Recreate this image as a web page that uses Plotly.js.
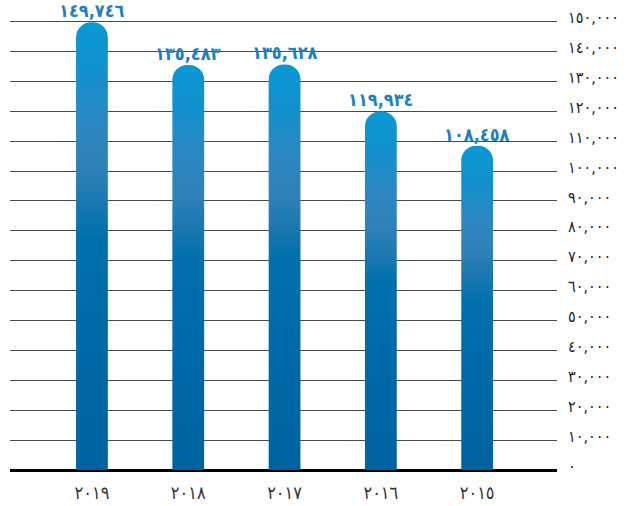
<!DOCTYPE html>
<html>
<head>
<meta charset="utf-8">
<script src="https://cdn.plot.ly/plotly-3.0.1.min.js"></script>
<style>
  html, body { margin: 0; padding: 0; background: #ffffff; }
  #chart { width: 630px; height: 506px; }
  /* tighter digit spacing for the axis numbers */
  #chart .ytick text { letter-spacing: -1.3px; }
</style>
</head>
<body>
<div id="chart"></div>
<script>
// Annual totals, newest year first (left to right)
const years = [2019, 2018, 2017, 2016, 2015];
const totals = [149746, 135483, 135628, 119934, 108458];
const yTickValues = [0, 10000, 20000, 30000, 40000, 50000, 60000, 70000,
                     80000, 90000, 100000, 110000, 120000, 130000, 140000, 150000];

// Western digits -> Arabic-Indic digits, keeping the comma separator
const AR_DIGITS = ['٠','١','٢','٣','٤','٥','٦','٧','٨','٩'];
function toArabic(str) {
  return String(str).replace(/[0-9]/g, d => AR_DIGITS[+d]);
}
function fmt(n) {
  return toArabic(n.toLocaleString('en-US'));
}

const cats = years.map(String);
const condensed = 'DejaVu Sans Condensed, DejaVu Sans, sans-serif';

const trace = {
  type: 'bar',
  x: cats,
  y: totals,
  width: 0.33,
  marker: { color: '#0a77b2', cornerradius: '50%', line: { width: 0 } },
  hoverinfo: 'none'
};

// value labels above each bar (x given as category index)
const annotations = cats.map((c, i) => ({
  x: i,
  y: totals[i],
  xref: 'x',
  yref: 'y',
  text: fmt(totals[i]),
  showarrow: false,
  yanchor: 'bottom',
  yshift: 0,
  borderpad: 0,
  font: { family: condensed, size: 18, color: '#1f7fbf', weight: 'bold' }
}));

const layout = {
  width: 630,
  height: 506,
  margin: { l: 10, r: 73, t: 20, b: 36, pad: 0 },
  paper_bgcolor: '#ffffff',
  plot_bgcolor: '#ffffff',
  showlegend: false,
  xaxis: {
    type: 'category',
    categoryorder: 'array',
    categoryarray: cats,
    range: [-0.851, 4.829],
    tickvals: cats,
    ticktext: years.map(toArabic),
    showgrid: false,
    zeroline: false,
    showline: false,
    ticks: '',
    ticklabelstandoff: 10,
    tickfont: { family: condensed, size: 18, color: '#333333' },
    fixedrange: true
  },
  yaxis: {
    side: 'right',
    range: [0, 150500],
    tickvals: yTickValues,
    ticktext: yTickValues.map(fmt),
    showgrid: true,
    gridcolor: '#4a4a4a',
    gridwidth: 1,
    zeroline: true,
    zerolinecolor: '#000000',
    zerolinewidth: 3,
    showline: false,
    ticks: '',
    ticklabelstandoff: 10,
    ticklabelshift: -4,
    tickfont: { family: condensed, size: 16, color: '#222222' },
    fixedrange: true
  },
  annotations: annotations
};

Plotly.newPlot('chart', [trace], layout, { displayModeBar: false, staticPlot: true }).then(gd => {
  // vertical blue gradient applied to each bar, light at the top
  const svg = gd.querySelector('svg.main-svg');
  const ns = 'http://www.w3.org/2000/svg';
  let defs = svg.querySelector('defs');
  if (!defs) { defs = document.createElementNS(ns, 'defs'); svg.insertBefore(defs, svg.firstChild); }
  const grad = document.createElementNS(ns, 'linearGradient');
  grad.setAttribute('id', 'barGradient');
  grad.setAttribute('x1', '0'); grad.setAttribute('y1', '0');
  grad.setAttribute('x2', '0'); grad.setAttribute('y2', '1');
  [[0, '#0899d5'], [0.1, '#1191ce'], [0.22, '#2a88c2'], [0.32, '#3181b8'],
   [0.41, '#1877b0'], [0.48, '#0070ac'], [0.75, '#0068a7'], [1, '#0063a1']].forEach(([o, c]) => {
    const s = document.createElementNS(ns, 'stop');
    s.setAttribute('offset', o);
    s.setAttribute('stop-color', c);
    grad.appendChild(s);
  });
  defs.appendChild(grad);
  gd.querySelectorAll('.bars .point path').forEach(p => {
    p.style.fill = 'url(#barGradient)';
  });
});
</script>
</body>
</html>
